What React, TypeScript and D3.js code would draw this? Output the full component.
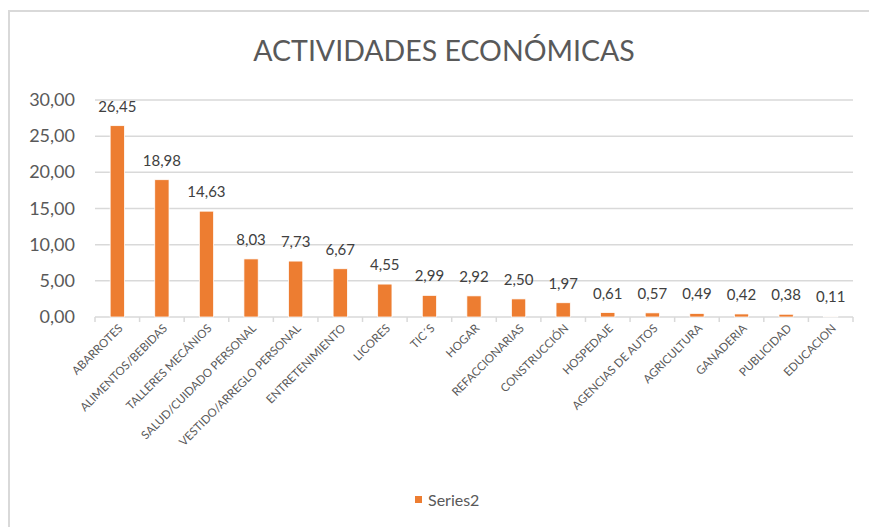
import * as d3 from "d3";
import { useRef, useEffect } from "react";

const categories = [
  "ABARROTES",
  "ALIMENTOS/BEBIDAS",
  "TALLERES MECÁNIOS",
  "SALUD/CUIDADO PERSONAL",
  "VESTIDO/ARREGLO PERSONAL",
  "ENTRETENIMIENTO",
  "LICORES",
  "TIC´S",
  "HOGAR",
  "REFACCIONARIAS",
  "CONSTRUCCIÓN",
  "HOSPEDAJE",
  "AGENCIAS DE AUTOS",
  "AGRICULTURA",
  "GANADERIA",
  "PUBLICIDAD",
  "EDUCACION",
];
const series2 = [26.45, 18.98, 14.63, 8.03, 7.73, 6.67, 4.55, 2.99, 2.92, 2.5, 1.97, 0.61, 0.57, 0.49, 0.42, 0.38, 0.11];
const yTicks = [0, 5, 10, 15, 20, 25, 30];

const font = "Lato, 'Open Sans', sans-serif";
const fmt = (v: number) => d3.format(".2f")(v).replace(".", ",");

export default function App() {
  const width = 869;
  const height = 527;
  const marginLeft = 95;
  const marginRight = 16;
  const marginTop = 100;
  const plotBottom = 317;
  const gx = useRef<SVGGElement>(null);

  const x = d3
    .scaleBand<number>()
    .domain(d3.range(categories.length))
    .range([marginLeft, width - marginRight])
    .paddingInner(0.68)
    .paddingOuter(0.34);
  const step = x.step();
  const left = marginLeft;

  const y = d3.scaleLinear([0, 30], [plotBottom, marginTop]);

  useEffect(() => {
    const g = d3.select(gx.current);
    g.selectAll("*").remove();
    g.append("line")
      .attr("x1", marginLeft)
      .attr("x2", width - marginRight)
      .attr("y1", plotBottom)
      .attr("y2", plotBottom)
      .attr("stroke", "#d9d9d9")
      .attr("stroke-width", 1.5);
    const w = (width - marginRight - marginLeft) / categories.length;
    g.selectAll(".tick")
      .data(d3.range(categories.length + 1))
      .join("line")
      .attr("x1", (i) => marginLeft + i * w)
      .attr("x2", (i) => marginLeft + i * w)
      .attr("y1", plotBottom)
      .attr("y2", plotBottom + 5)
      .attr("stroke", "#d9d9d9")
      .attr("stroke-width", 1.5);
  }, [step, left]);

  return (
    <svg width={width} height={height} style={{ display: "block", position: "absolute", left: 0, top: 0 }}>
      <rect x={0} y={0} width={width} height={height} fill="#fff" />
      <rect x={9} y={11} width={width + 20} height={height + 20} fill="#fff" stroke="#d9d9d9" strokeWidth={2} />
      <text x={444} y={61} textAnchor="middle" fontFamily={font} fontSize={28.5} fill="#595959">
        ACTIVIDADES ECONÓMICAS
      </text>

      <g>
        {yTicks.map((t) => (
          <g key={t}>
            {t > 0 && (
              <line
                x1={marginLeft}
                x2={width - marginRight}
                y1={y(t)}
                y2={y(t)}
                stroke="#d9d9d9"
                strokeWidth={1.5}
              />
            )}
            <text x={75} y={y(t) + 6} textAnchor="end" fontFamily={font} fontSize={18} fill="#595959">
              {fmt(t)}
            </text>
          </g>
        ))}
      </g>

      <g ref={gx} />

      <g>
        {series2.map((v, i) => (
          <rect
            key={i}
            x={x(i)}
            y={y(v)}
            width={x.bandwidth()}
            height={plotBottom - y(v)}
            fill="#ed7d31"
            stroke="#fff"
            strokeWidth={0.75}
          />
        ))}
      </g>

      <g fontFamily={font} fontSize={15} fill="#404040" textAnchor="middle">
        {series2.map((v, i) => (
          <text key={i} x={x(i)! + x.bandwidth() / 2} y={y(v) - 14}>
            {fmt(v)}
          </text>
        ))}
      </g>

      <g fontFamily={font} fontSize={11.5} fill="#595959" textAnchor="end">
        {categories.map((c, i) => (
          <text
            key={c}
            transform={`translate(${x(i)! + x.bandwidth() / 2 + 6},${plotBottom + 12}) rotate(-45)`}
          >
            {c}
          </text>
        ))}
      </g>

      <rect x={415} y={496} width={7} height={7} fill="#ed7d31" />
      <text x={428} y={506} fontFamily={font} fontSize={16} fill="#595959">
        Series2
      </text>
    </svg>
  );
}
